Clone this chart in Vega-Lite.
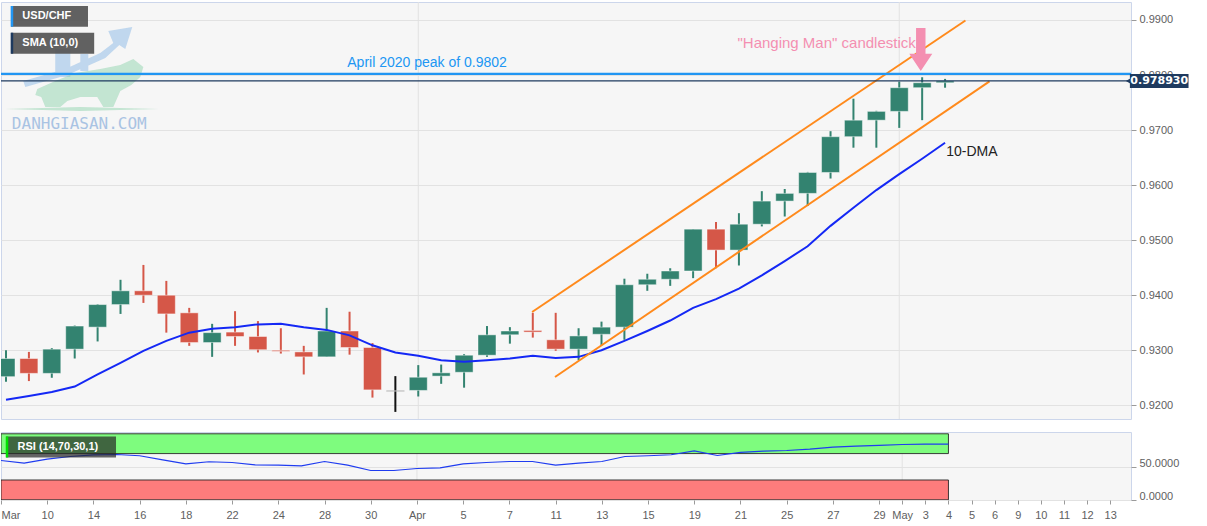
{
  "$schema": "https://vega.github.io/schema/vega-lite/v6.json",
  "background": "#ffffff",
  "padding": {"left": 0, "top": 1, "right": 0, "bottom": 0},
  "config": {
    "font": "Liberation Sans",
    "view": {"stroke": "#ccd6eb", "fill": "#f6f6f6"},
    "axis": {"labelFont": "Liberation Sans", "labelFontSize": 11, "labelColor": "#606060", "gridColor": "#e2e2e2", "tickColor": "#9a9a9a", "domain": false, "title": null, "labelOverlap": false, "labelBound": false},
    "axisX": {"labelOverlap": false}
  },
  "datasets": {
    "candles": [
      {"date": "2022-03-08", "idx": 0, "open": 0.9252, "high": 0.9300, "low": 0.9243, "close": 0.9285, "dir": "up", "sma": 0.9210, "rsi": 59.5},
      {"date": "2022-03-09", "idx": 1, "open": 0.9285, "high": 0.9297, "low": 0.9244, "close": 0.9258, "dir": "down", "sma": 0.9217, "rsi": 55.5},
      {"date": "2022-03-10", "idx": 2, "open": 0.9258, "high": 0.9304, "low": 0.9250, "close": 0.9302, "dir": "up", "sma": 0.9224, "rsi": 61.5},
      {"date": "2022-03-11", "idx": 3, "open": 0.9302, "high": 0.9345, "low": 0.9285, "close": 0.9344, "dir": "up", "sma": 0.9234, "rsi": 65.6},
      {"date": "2022-03-14", "idx": 4, "open": 0.9342, "high": 0.9384, "low": 0.9316, "close": 0.9383, "dir": "up", "sma": 0.9256, "rsi": 68.2},
      {"date": "2022-03-15", "idx": 5, "open": 0.9383, "high": 0.9428, "low": 0.9366, "close": 0.9408, "dir": "up", "sma": 0.9277, "rsi": 68.6},
      {"date": "2022-03-16", "idx": 6, "open": 0.9408, "high": 0.9455, "low": 0.9386, "close": 0.9400, "dir": "down", "sma": 0.9299, "rsi": 66.7},
      {"date": "2022-03-17", "idx": 7, "open": 0.9400, "high": 0.9426, "low": 0.9332, "close": 0.9366, "dir": "down", "sma": 0.9317, "rsi": 60.6},
      {"date": "2022-03-18", "idx": 8, "open": 0.9368, "high": 0.9377, "low": 0.9308, "close": 0.9314, "dir": "down", "sma": 0.9332, "rsi": 54.5},
      {"date": "2022-03-21", "idx": 9, "open": 0.9314, "high": 0.9348, "low": 0.9288, "close": 0.9332, "dir": "up", "sma": 0.9339, "rsi": 57.6},
      {"date": "2022-03-22", "idx": 10, "open": 0.9333, "high": 0.9371, "low": 0.9308, "close": 0.9325, "dir": "down", "sma": 0.9342, "rsi": 56.5},
      {"date": "2022-03-23", "idx": 11, "open": 0.9325, "high": 0.9353, "low": 0.9296, "close": 0.9301, "dir": "down", "sma": 0.9347, "rsi": 53.0},
      {"date": "2022-03-24", "idx": 12, "open": 0.9300, "high": 0.9340, "low": 0.9294, "close": 0.9298, "dir": "down", "sma": 0.9348, "rsi": 52.4},
      {"date": "2022-03-25", "idx": 13, "open": 0.9297, "high": 0.9308, "low": 0.9256, "close": 0.9288, "dir": "down", "sma": 0.9342, "rsi": 51.5},
      {"date": "2022-03-28", "idx": 14, "open": 0.9288, "high": 0.9377, "low": 0.9288, "close": 0.9335, "dir": "up", "sma": 0.9337, "rsi": 58.0},
      {"date": "2022-03-29", "idx": 15, "open": 0.9335, "high": 0.9370, "low": 0.9292, "close": 0.9305, "dir": "down", "sma": 0.9327, "rsi": 52.4},
      {"date": "2022-03-30", "idx": 16, "open": 0.9305, "high": 0.9313, "low": 0.9214, "close": 0.9228, "dir": "down", "sma": 0.9309, "rsi": 44.4},
      {"date": "2022-03-31", "idx": 17, "open": 0.92265, "high": 0.9253, "low": 0.9188, "close": 0.92255, "dir": "flat", "sma": 0.9296, "rsi": 44.4},
      {"date": "2022-04-01", "idx": 18, "open": 0.9227, "high": 0.9273, "low": 0.9216, "close": 0.9251, "dir": "up", "sma": 0.9290, "rsi": 47.4},
      {"date": "2022-04-04", "idx": 19, "open": 0.9253, "high": 0.9274, "low": 0.9239, "close": 0.9259, "dir": "up", "sma": 0.9282, "rsi": 48.5},
      {"date": "2022-04-05", "idx": 20, "open": 0.9260, "high": 0.9293, "low": 0.9232, "close": 0.9291, "dir": "up", "sma": 0.9279, "rsi": 54.5},
      {"date": "2022-04-06", "idx": 21, "open": 0.9291, "high": 0.9344, "low": 0.9288, "close": 0.9328, "dir": "up", "sma": 0.9282, "rsi": 56.5},
      {"date": "2022-04-07", "idx": 22, "open": 0.9328, "high": 0.9342, "low": 0.9312, "close": 0.9335, "dir": "up", "sma": 0.9285, "rsi": 58.0},
      {"date": "2022-04-08", "idx": 23, "open": 0.9336, "high": 0.9368, "low": 0.9323, "close": 0.9333, "dir": "down", "sma": 0.9290, "rsi": 58.0},
      {"date": "2022-04-11", "idx": 24, "open": 0.9319, "high": 0.9368, "low": 0.9299, "close": 0.9302, "dir": "down", "sma": 0.9286, "rsi": 52.4},
      {"date": "2022-04-12", "idx": 25, "open": 0.9302, "high": 0.9340, "low": 0.9282, "close": 0.9326, "dir": "up", "sma": 0.9288, "rsi": 55.5},
      {"date": "2022-04-13", "idx": 26, "open": 0.9329, "high": 0.9352, "low": 0.9309, "close": 0.9342, "dir": "up", "sma": 0.9300, "rsi": 58.0},
      {"date": "2022-04-14", "idx": 27, "open": 0.9342, "high": 0.9430, "low": 0.9319, "close": 0.9419, "dir": "up", "sma": 0.9317, "rsi": 65.6},
      {"date": "2022-04-15", "idx": 28, "open": 0.9419, "high": 0.9439, "low": 0.9408, "close": 0.9429, "dir": "up", "sma": 0.9335, "rsi": 66.7},
      {"date": "2022-04-18", "idx": 29, "open": 0.9429, "high": 0.9449, "low": 0.9417, "close": 0.9444, "dir": "up", "sma": 0.9354, "rsi": 68.2},
      {"date": "2022-04-19", "idx": 30, "open": 0.9444, "high": 0.9520, "low": 0.9431, "close": 0.9520, "dir": "up", "sma": 0.9377, "rsi": 74.2},
      {"date": "2022-04-20", "idx": 31, "open": 0.9520, "high": 0.9533, "low": 0.9449, "close": 0.9482, "dir": "down", "sma": 0.9393, "rsi": 67.1},
      {"date": "2022-04-21", "idx": 32, "open": 0.9482, "high": 0.9549, "low": 0.9454, "close": 0.9529, "dir": "up", "sma": 0.9412, "rsi": 71.7},
      {"date": "2022-04-22", "idx": 33, "open": 0.9529, "high": 0.9589, "low": 0.9525, "close": 0.9571, "dir": "up", "sma": 0.9436, "rsi": 73.6},
      {"date": "2022-04-25", "idx": 34, "open": 0.9571, "high": 0.9593, "low": 0.9543, "close": 0.9585, "dir": "up", "sma": 0.9462, "rsi": 74.7},
      {"date": "2022-04-26", "idx": 35, "open": 0.9585, "high": 0.9624, "low": 0.9562, "close": 0.9623, "dir": "up", "sma": 0.9489, "rsi": 76.7},
      {"date": "2022-04-27", "idx": 36, "open": 0.9623, "high": 0.9698, "low": 0.9612, "close": 0.9688, "dir": "up", "sma": 0.9526, "rsi": 79.7},
      {"date": "2022-04-28", "idx": 37, "open": 0.9688, "high": 0.9757, "low": 0.9668, "close": 0.9718, "dir": "up", "sma": 0.9559, "rsi": 81.2},
      {"date": "2022-04-29", "idx": 38, "open": 0.9718, "high": 0.9735, "low": 0.9668, "close": 0.9734, "dir": "up", "sma": 0.9591, "rsi": 82.3},
      {"date": "2022-05-02", "idx": 39, "open": 0.9734, "high": 0.9788, "low": 0.9704, "close": 0.9777, "dir": "up", "sma": 0.9620, "rsi": 83.8},
      {"date": "2022-05-03", "idx": 40, "open": 0.9777, "high": 0.9796, "low": 0.9718, "close": 0.9786, "dir": "up", "sma": 0.9648, "rsi": 84.2},
      {"date": "2022-05-04", "idx": 41, "open": 0.9786, "high": 0.9793, "low": 0.9777, "close": 0.97893, "dir": "up", "sma": 0.9677, "rsi": 84.2}
    ],
    "months": [{"idx": 18, "month": "Apr"}, {"idx": 39, "month": "May"}],
    "levels": [{"level": "April 2020 peak", "price": 0.9802}, {"level": "Last price", "price": 0.97893}],
    "channel": [
      {"line": "upper", "idx": 22.97, "price": 0.93695},
      {"line": "upper", "idx": 41.89, "price": 0.98991},
      {"line": "lower", "idx": 23.97, "price": 0.92514},
      {"line": "lower", "idx": 42.94, "price": 0.97886}
    ],
    "zones": [{"zone": "overbought", "lo": 70, "hi": 100}, {"zone": "oversold", "lo": 0, "hi": 30}]
  },
  "spacing": 11,
  "vconcat": [
    {
      "width": 1130,
      "height": 417,
      "layer": [
        {
          "data": {"name": "months"},
          "mark": {"type": "rule", "color": "#e2e2e2", "strokeWidth": 1},
          "encoding": {
            "x": {"field": "idx", "type": "quantitative", "scale": {"domain": [0, 48.9], "nice": false, "zero": false}, "axis": null}
          }
        },
        {
          "data": {"values": [{"logo": "arrow", "idx": 3.462, "price": 0.9811}]},
          "mark": {"type": "point", "shape": "M -0.886 0.171 L -0.286 0 L 0.214 -0.229 L 0.4 -0.371 L 0.329 -0.543 L 0.671 -0.6 L 0.571 -0.286 L 0.486 -0.343 L 0.286 -0.157 L -0.257 0.086 L -0.857 0.257 Z M -0.429 -0.286 L -0.214 -0.286 L -0.214 0.114 L -0.429 0.114 Z M -0.071 -0.214 L 0.043 -0.214 L 0.043 0.029 L -0.071 0.029 Z", "size": 19600, "filled": true, "color": "#8ab8e6", "opacity": 0.5, "strokeWidth": 0},
          "encoding": {"x": {"field": "idx", "type": "quantitative", "axis": null}, "y": {"field": "price", "type": "quantitative"}}
        },
        {
          "data": {"values": [{"logo": "bull", "idx": 3.462, "price": 0.9811}]},
          "mark": {"type": "point", "shape": "M -0.686 0.286 L -0.429 0.171 L -0.143 0.057 L 0.214 0 L 0.5 -0.057 L 0.686 -0.143 L 0.829 -0.029 L 0.786 0.114 L 0.657 0.229 L 0.5 0.314 L 0.4 0.543 L 0.257 0.543 L 0.171 0.4 L -0.071 0.4 L -0.257 0.457 L -0.357 0.543 L -0.571 0.543 L -0.629 0.4 L -0.714 0.371 Z M -1.143 0.571 L -0.071 0.543 L 1.043 0.571 L -0.071 0.6 Z", "size": 19600, "filled": true, "color": "#8fd4ad", "opacity": 0.5, "strokeWidth": 0},
          "encoding": {"x": {"field": "idx", "type": "quantitative", "axis": null}, "y": {"field": "price", "type": "quantitative"}}
        },
        {
          "data": {"name": "candles"},
          "mark": {"type": "rule", "strokeWidth": 2, "clip": true},
          "encoding": {
            "x": {"field": "idx", "type": "quantitative", "axis": null},
            "y": {"field": "low", "type": "quantitative", "scale": {"domain": [0.91751, 0.99327], "nice": false, "zero": false},
                  "axis": {"orient": "right", "values": [0.92, 0.925, 0.93, 0.935, 0.94, 0.945, 0.95, 0.955, 0.96, 0.965, 0.97, 0.975, 0.98, 0.985, 0.99], "format": ".4f", "grid": true, "tickSize": 5, "labelPadding": 3}},
            "y2": {"field": "high"},
            "color": {"field": "dir", "type": "nominal", "scale": {"domain": ["up", "down", "flat"], "range": ["#338370", "#d55748", "#111111"]}, "legend": null}
          }
        },
        {
          "data": {"name": "candles"},
          "mark": {"type": "bar", "size": 18, "stroke": "#ffffff", "strokeOpacity": 0.45, "strokeWidth": 1, "clip": true},
          "encoding": {
            "x": {"field": "idx", "type": "quantitative", "axis": null},
            "y": {"field": "open", "type": "quantitative"},
            "y2": {"field": "close"},
            "color": {"field": "dir", "type": "nominal", "legend": null}
          }
        },
        {
          "data": {"name": "candles"},
          "mark": {"type": "line", "color": "#1428f5", "strokeWidth": 2, "clip": true},
          "encoding": {
            "x": {"field": "idx", "type": "quantitative", "axis": null},
            "y": {"field": "sma", "type": "quantitative"}
          }
        },
        {
          "data": {"name": "channel"},
          "mark": {"type": "line", "color": "#ff8a1c", "strokeWidth": 2},
          "encoding": {
            "x": {"field": "idx", "type": "quantitative", "axis": null},
            "y": {"field": "price", "type": "quantitative"},
            "detail": {"field": "line", "type": "nominal"}
          }
        },
        {
          "data": {"name": "levels"},
          "mark": {"type": "rule", "clip": true},
          "encoding": {
            "y": {"field": "price", "type": "quantitative"},
            "stroke": {"field": "level", "type": "nominal", "scale": {"domain": ["April 2020 peak", "Last price"], "range": ["#2196f3", "#1e3a5f"]}, "legend": null},
            "strokeWidth": {"field": "level", "type": "nominal", "scale": {"domain": ["April 2020 peak", "Last price"], "range": [2.2, 1.2]}, "legend": null}
          }
        },
        {
          "data": {"values": [{"text": "April 2020 peak of 0.9802", "idx": 14.9, "price": 0.98219}]},
          "mark": {"type": "text", "align": "left", "baseline": "middle", "fontSize": 14, "color": "#2196f3", "font": "Liberation Sans"},
          "encoding": {"x": {"field": "idx", "type": "quantitative", "axis": null}, "y": {"field": "price", "type": "quantitative"}, "text": {"field": "text"}}
        },
        {
          "data": {"values": [{"text": "\"Hanging Man\" candlestick", "idx": 39.72, "price": 0.98582}]},
          "mark": {"type": "text", "align": "right", "baseline": "middle", "fontSize": 15, "color": "#f48fb1", "font": "Liberation Sans"},
          "encoding": {"x": {"field": "idx", "type": "quantitative", "axis": null}, "y": {"field": "price", "type": "quantitative"}, "text": {"field": "text"}}
        },
        {
          "data": {"values": [{"text": "10-DMA", "idx": 41.05, "price": 0.96602}]},
          "mark": {"type": "text", "align": "left", "baseline": "middle", "fontSize": 14, "color": "#222222", "font": "Liberation Sans"},
          "encoding": {"x": {"field": "idx", "type": "quantitative", "axis": null}, "y": {"field": "price", "type": "quantitative"}, "text": {"field": "text"}}
        },
        {
          "data": {"values": [{"note": "Hanging Man", "idx": 39.94, "price": 0.98464}]},
          "mark": {"type": "point", "shape": "M -0.22 -1 L 0.22 -1 L 0.22 0.2 L 0.535 0.2 L 0 1 L -0.535 0.2 L -0.22 0.2 Z", "size": 1849, "filled": true, "color": "#f48fb1", "opacity": 1, "strokeWidth": 0},
          "encoding": {"x": {"field": "idx", "type": "quantitative", "axis": null}, "y": {"field": "price", "type": "quantitative"}}
        },
        {
          "data": {"values": [{"text": "DANHGIASAN.COM", "idx": 3.2, "price": 0.97116}]},
          "mark": {"type": "text", "align": "center", "baseline": "middle", "fontSize": 16, "color": "#a9c3e3", "font": "DejaVu Sans Mono"},
          "encoding": {"x": {"field": "idx", "type": "quantitative", "axis": null}, "y": {"field": "price", "type": "quantitative"}, "text": {"field": "text"}}
        },
        {
          "data": {"values": [
            {"label": "USD/CHF", "x1": 0.216, "x2": 3.58, "top": 0.99254, "bottom": 0.98878, "mid": 0.99066, "tx": 0.714},
            {"label": "SMA (10,0)", "x1": 0.216, "x2": 3.85, "top": 0.98769, "bottom": 0.98388, "mid": 0.98578, "tx": 0.714}
          ]},
          "layer": [
            {
              "mark": {"type": "rect", "color": "#555555", "opacity": 0.93},
              "encoding": {"x": {"field": "x1", "type": "quantitative", "axis": null}, "x2": {"field": "x2"}, "y": {"field": "top", "type": "quantitative"}, "y2": {"field": "bottom"}}
            },
            {
              "mark": {"type": "rule", "strokeWidth": 2.5, "xOffset": 1},
              "encoding": {
                "x": {"field": "x1", "type": "quantitative", "axis": null}, "y": {"field": "top", "type": "quantitative"}, "y2": {"field": "bottom"},
                "stroke": {"field": "label", "type": "nominal", "scale": {"domain": ["USD/CHF", "SMA (10,0)"], "range": ["#2e8b6e", "#1428f5"]}, "legend": null}
              }
            },
            {
              "mark": {"type": "text", "align": "left", "baseline": "middle", "fontSize": 11, "fontWeight": "bold", "color": "#ffffff", "font": "Liberation Sans"},
              "encoding": {"x": {"field": "tx", "type": "quantitative", "axis": null}, "y": {"field": "mid", "type": "quantitative"}, "text": {"field": "label"}}
            }
          ]
        },
        {
          "data": {"values": [{"label": "0.978930", "price": 0.97893, "x1": 49.07, "x2": 51.63, "top": 0.98019, "bottom": 0.97765, "tx": 50.35, "px": 49.0}]},
          "layer": [
            {
              "mark": {"type": "rect", "color": "#1e3a5f"},
              "encoding": {"x": {"field": "x1", "type": "quantitative", "axis": null}, "x2": {"field": "x2"}, "y": {"field": "top", "type": "quantitative"}, "y2": {"field": "bottom"}}
            },
            {
              "mark": {"type": "point", "shape": "triangle-left", "size": 30, "filled": true, "color": "#1e3a5f", "opacity": 1},
              "encoding": {"x": {"field": "px", "type": "quantitative", "axis": null}, "y": {"field": "price", "type": "quantitative"}}
            },
            {
              "mark": {"type": "text", "align": "center", "baseline": "middle", "fontSize": 11, "fontWeight": "bold", "color": "#ffffff", "font": "DejaVu Sans"},
              "encoding": {"x": {"field": "tx", "type": "quantitative", "axis": null}, "y": {"field": "price", "type": "quantitative"}, "text": {"field": "label"}}
            }
          ]
        }
      ]
    },
    {
      "width": 1130,
      "height": 68,
      "encoding": {
        "x": {"type": "quantitative", "scale": {"domain": [0, 48.9], "nice": false, "zero": false},
              "axis": {"orient": "bottom", "values": [0, 2, 4, 6, 8, 10, 12, 14, 16, 18, 20, 22, 24, 26, 28, 30, 32, 34, 36, 38, 39, 40, 41, 42, 43, 44, 45, 46, 47, 48],
                       "labelExpr": "['Mar','','10','','14','','16','','18','','22','','24','','28','','30','','Apr','','5','','7','','11','','13','','15','','19','','21','','25','','27','','29','May','3','4','5','6','9','10','11','12','13'][datum.value]",
                       "grid": false, "tickSize": 4, "labelPadding": 5, "labelFlush": 1, "labelOverlap": false, "labelBound": false}}
      },
      "layer": [
        {
          "data": {"name": "months"},
          "mark": {"type": "rule", "color": "#e2e2e2", "strokeWidth": 1},
          "encoding": {"x": {"field": "idx", "type": "quantitative"}}
        },
        {
          "data": {"name": "zones"},
          "mark": {"type": "rect", "stroke": "#1d1d1d", "strokeWidth": 1, "strokeOpacity": 0.85, "clip": true},
          "encoding": {
            "x": {"datum": 0, "type": "quantitative"},
            "x2": {"datum": 41},
            "y": {"field": "lo", "type": "quantitative", "scale": {"domain": [-0.3, 102.7], "nice": false, "zero": false},
                  "axis": {"orient": "right", "values": [0, 50], "format": ".4f", "grid": true, "tickSize": 5, "labelPadding": 3, "labelOffset": -3.5}},
            "y2": {"field": "hi"},
            "fill": {"field": "zone", "type": "nominal", "scale": {"domain": ["overbought", "oversold"], "range": ["#7efc7e", "#fd7c7c"]}, "legend": null}
          }
        },
        {
          "data": {"name": "candles"},
          "mark": {"type": "line", "color": "#1f3cf0", "strokeWidth": 1.2, "clip": true},
          "encoding": {
            "x": {"field": "idx", "type": "quantitative"},
            "y": {"field": "rsi", "type": "quantitative"}
          }
        },
        {
          "data": {"values": [{"label": "RSI (14,70,30,1)", "x1": 0.216, "x2": 4.977, "top": 95.9, "bottom": 64.1, "mid": 80, "tx": 0.714}]},
          "layer": [
            {
              "mark": {"type": "rect", "color": "#262626", "opacity": 0.7},
              "encoding": {"x": {"field": "x1", "type": "quantitative"}, "x2": {"field": "x2"}, "y": {"field": "top", "type": "quantitative"}, "y2": {"field": "bottom"}}
            },
            {
              "mark": {"type": "rule", "strokeWidth": 2.5, "xOffset": 1, "color": "#00e000"},
              "encoding": {"x": {"field": "x1", "type": "quantitative"}, "y": {"field": "top", "type": "quantitative"}, "y2": {"field": "bottom"}}
            },
            {
              "mark": {"type": "text", "align": "left", "baseline": "middle", "fontSize": 11, "fontWeight": "bold", "color": "#ffffff", "font": "Liberation Sans"},
              "encoding": {"x": {"field": "tx", "type": "quantitative"}, "y": {"field": "mid", "type": "quantitative"}, "text": {"field": "label"}}
            }
          ]
        }
      ]
    }
  ]
}
